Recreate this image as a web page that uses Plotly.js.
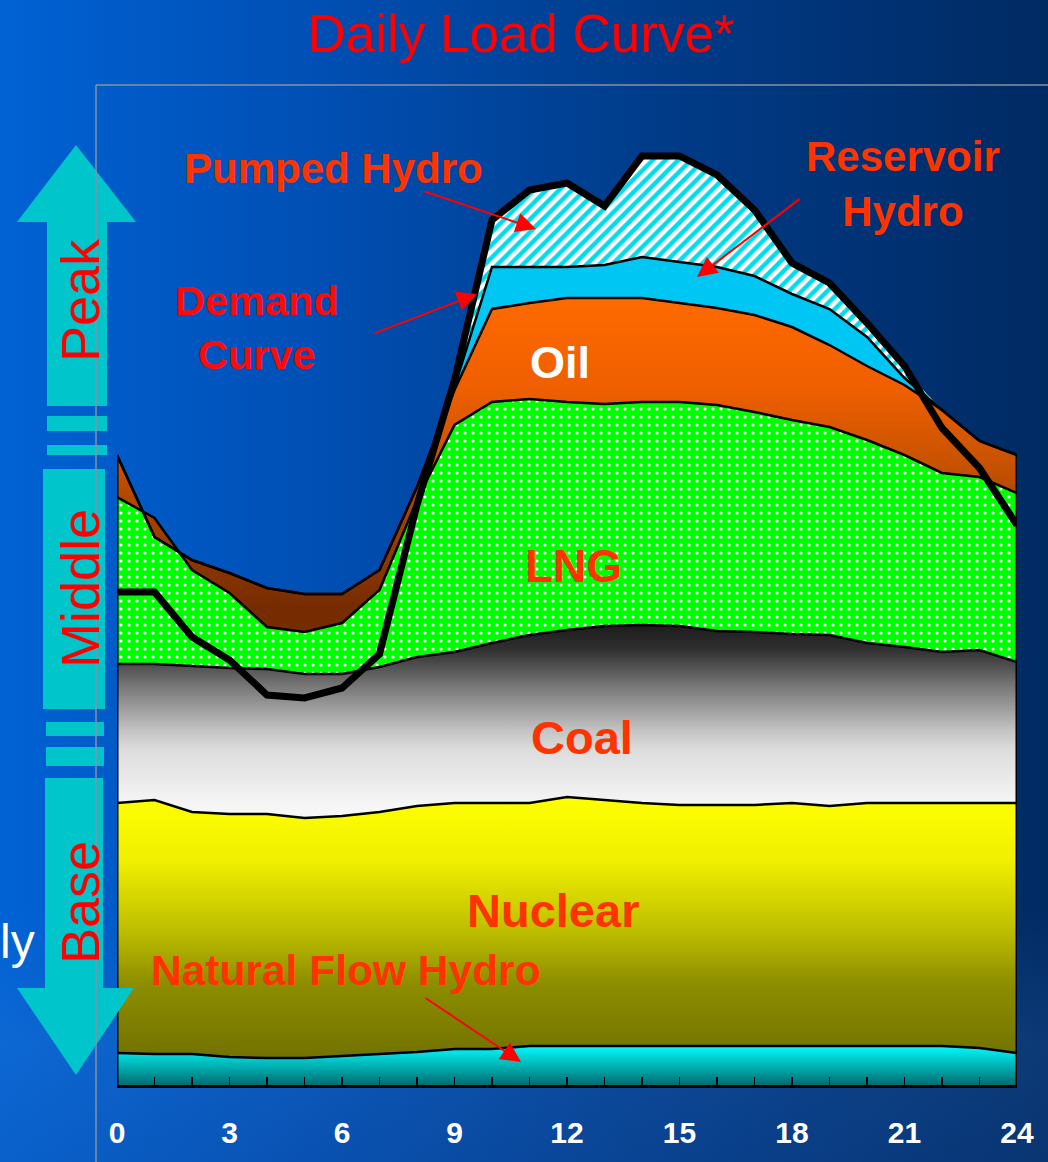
<!DOCTYPE html>
<html>
<head>
<meta charset="utf-8">
<script src="https://cdn.plot.ly/plotly-3.0.1.min.js"></script>
<style>
  html, body { margin: 0; padding: 0; }
  body {
    width: 1048px; height: 1162px; overflow: hidden;
    background:
      linear-gradient(to bottom, rgba(0,0,0,0) 78%, rgba(70,130,210,0.18) 90%, rgba(40,90,170,0.22) 100%),
      linear-gradient(to right, #0062d4 0%, #004fb4 30%, #003c8a 62%, #002a62 100%);
  }
  #chart { width: 1048px; height: 1162px; }
</style>
</head>
<body>
<div id="chart"></div>
<script>
// ---- data (arbitrary load units) ----
const hours = [0,1,2,3,4,5,6,7,8,9,10,11,12,13,14,15,16,17,18,19,20,21,22,23,24];
const hourLabels = ['0','','','3','','','6','','','9','','','12','','','15','','','18','','','21','','','24'];

const naturalFlowHydro = [3.2,3.1,3.1,2.8,2.7,2.7,2.9,3.1,3.3,3.6,3.6,3.9,3.9,3.9,3.9,3.9,3.9,3.9,3.9,3.9,3.9,3.9,3.9,3.7,3.2];
const nuclear = [25.0,25.4,24.2,24.3,24.4,24.0,24.0,24.2,24.6,24.6,24.6,24.3,24.9,24.6,24.3,24.1,24.1,24.1,24.3,24.0,24.3,24.3,24.3,24.5,25.0];
const coal = [13.9,13.6,14.6,14.6,14.5,14.4,14.2,14.5,14.9,15.1,16.0,16.8,16.7,17.4,17.8,17.9,17.4,17.3,16.9,17.1,16.0,15.6,15.1,15.3,14.1];
const lng = [16.7,14.6,9.6,7.5,4.2,4.2,5.1,7.7,15.7,22.7,24.1,23.6,22.8,22.2,22.3,22.4,22.6,22.0,21.4,20.8,20.3,19.2,17.9,17.3,16.9];
const oil = [4.2,-1.9,1.0,2.0,3.9,3.8,2.9,2.0,1.3,3.5,9.3,9.6,10.4,10.6,10.4,9.9,9.7,9.7,9.3,8.2,7.4,7.0,6.3,3.6,3.8];
const reservoirHydro = [0,0,0,0,0,0,0,0,0,0.3,4.2,3.6,3.1,3.3,4.1,4.1,4.1,3.9,3.3,3.6,2.9,0.7,0,0,0];
const pumpedHydro = [0,0,0,0,0,0,0,0,0,0.5,4.7,7.7,8.4,5.9,10.1,10.6,9.2,6.6,3.1,2.6,1.4,0.8,0,0,0];
const demand = [49.3,49.3,44.8,42.5,39.0,38.7,39.7,43.1,58.0,70.5,86.5,89.5,90.2,87.9,92.9,92.9,91.0,87.5,82.2,80.2,76.2,71.9,65.7,61.7,56.0];

// ---- helpers for decoration placement (pixel -> paper) ----
const PL = 117, PR = 1017, PT = 85, PB = 1085;
const PX = x => (x - PL) / (PR - PL);
const PY = y => (PB - y) / (PB - PT);
const path = pts => 'M ' + pts.map(p => PX(p[0]).toFixed(5) + ',' + PY(p[1]).toFixed(5)).join(' L ') + ' Z';

const edge = {color: '#000000', width: 2.5};
const base = {type: 'scatter', mode: 'lines', stackgroup: 'supply', hoverinfo: 'skip', x: hours, line: edge};

const traces = [
  Object.assign({}, base, {name: 'Natural Flow Hydro', y: naturalFlowHydro,
    fillgradient: {type: 'vertical', start: 0, stop: 4, colorscale: [[0, '#006c70'], [1, '#00ffff']]}}),
  Object.assign({}, base, {name: 'Nuclear', y: nuclear,
    fillgradient: {type: 'vertical', start: 3, stop: 29, colorscale: [[0, '#737300'], [0.28, '#8e8e00'], [0.47, '#bcbc00'], [0.75, '#f0f000'], [1, '#ffff00']]}}),
  Object.assign({}, base, {name: 'Coal', y: coal,
    fillgradient: {type: 'vertical', start: 28, stop: 46.5, colorscale: [[0, '#f6f6f6'], [0.3, '#dcdcdc'], [0.4, '#c4c4c4'], [0.64, '#787878'], [0.84, '#303030'], [1, '#181818']]}}),
  Object.assign({}, base, {name: 'LNG', y: lng, fillcolor: '#00ff00',
    fillpattern: {shape: '.', bgcolor: '#00ff00', fgcolor: '#ffffff', size: 8, solidity: 0.12, fillmode: 'replace'}}),
  Object.assign({}, base, {name: 'Oil', y: oil,
    fillgradient: {type: 'vertical', start: 48, stop: 79, colorscale: [[0, '#772c00'], [0.22, '#9a3c00'], [0.45, '#c65200'], [0.7, '#ef5f00'], [1, '#ff6a00']]}}),
  Object.assign({}, base, {name: 'Reservoir Hydro', y: reservoirHydro, fillcolor: '#00c6f4'}),
  Object.assign({}, base, {name: 'Pumped Hydro', y: pumpedHydro, line: {color: '#000000', width: 0},
    fillcolor: '#ffffff',
    fillpattern: {shape: '/', bgcolor: '#ffffff', fgcolor: '#00dcec', size: 9, solidity: 0.5, fillmode: 'replace'}})
];

// outline edges at both ends of the stacked area, derived from the data
const stackTop = i => naturalFlowHydro[i] + nuclear[i] + coal[i] + lng[i] + oil[i] + reservoirHydro[i] + pumpedHydro[i];
const last = hours.length - 1;
traces.push({type: 'scatter', mode: 'lines', hoverinfo: 'skip', x: [hours[0], hours[0]], y: [0, stackTop(0)], line: {color: '#000', width: 3}});
traces.push({type: 'scatter', mode: 'lines', hoverinfo: 'skip', x: [hours[last], hours[last]], y: [0, stackTop(last)], line: {color: '#000', width: 3}});

traces.push({type: 'scatter', mode: 'lines', name: 'Demand Curve', hoverinfo: 'skip', x: hours, y: demand,
  line: {color: '#000000', width: 7}});

// ---- decorations ----
const cyan = '#00c6cc';
const box = pts => ({type: 'path', xref: 'paper', yref: 'paper', layer: 'above', fillcolor: cyan, line: {width: 0}, path: path(pts)});
const shapes = [
  box([[76,145],[136,222],[107,222],[107,406],[47,406],[47,222],[17,222]]),
  box([[47,416],[107,416],[107,431],[47,431]]),
  box([[47,445],[107,445],[107,455],[47,455]]),
  box([[43,469],[105,469],[105,709],[43,709]]),
  box([[46,722],[104,722],[104,736],[46,736]]),
  box([[46,747],[104,747],[104,766],[46,766]]),
  box([[45,778],[103,778],[103,988],[134,988],[76,1075],[17,988],[45,988]]),
  // thin frame of the original chart box
  {type: 'line', xref: 'paper', yref: 'paper', layer: 'above', x0: PX(96), x1: PX(1048), y0: PY(85), y1: PY(85), line: {color: '#8592a6', width: 1.5}},
  {type: 'line', xref: 'paper', yref: 'paper', layer: 'above', x0: PX(96), x1: PX(96), y0: PY(85), y1: PY(1162), line: {color: '#8592a6', width: 1.5}}
];

const fam = 'Liberation Sans, Arial, sans-serif';
const lab = (txt, x, y, size, color) => ({
  text: txt, xref: 'paper', yref: 'paper', x: PX(x), y: PY(y), xanchor: 'center', yanchor: 'middle',
  showarrow: false, font: {family: fam, size: size, color: color, weight: 'bold'}
});
const arrow = (tx, ty, hx, hy) => ({
  text: '', xref: 'paper', yref: 'paper', x: PX(hx), y: PY(hy), ax: tx - hx, ay: ty - hy,
  showarrow: true, arrowhead: 2, arrowsize: 2, arrowwidth: 2, arrowcolor: '#ff0000', standoff: 0, startstandoff: 0
});
const side = (txt, y) => ({text: txt, xref: 'paper', yref: 'paper', x: PX(80), y: PY(y), textangle: -90, showarrow: false,
  xanchor: 'center', yanchor: 'middle', font: {family: fam, size: 54, color: '#ff0000'}});

const orange = '#ff3300';
const annotations = [
  lab('Pumped Hydro', 333, 169, 42, orange),
  lab('Reservoir<br>Hydro', 903, 184, 42, orange),
  lab('Demand<br>Curve', 257, 327, 41.5, '#ff0a0a'),
  lab('Oil', 560, 362, 45, '#ffffff'),
  lab('LNG', 573, 566, 46, orange),
  lab('Coal', 582, 737, 47, orange),
  lab('Nuclear', 553, 910, 47, orange),
  lab('Natural Flow Hydro', 346, 970, 42.5, orange),
  arrow(423, 191, 536, 229),
  arrow(801, 198, 697, 277),
  arrow(373, 334, 477, 294),
  arrow(424, 997, 521, 1062),
  side('Peak', 300),
  side('Middle', 589),
  side('Base', 903),
  {text: 'ly', xref: 'paper', yref: 'paper', x: PX(37), y: PY(941), xanchor: 'right', yanchor: 'middle', showarrow: false,
   font: {family: fam, size: 48, color: '#ffffff'}}
];

const layout = {
  width: 1048, height: 1162,
  margin: {l: 117, r: 31, t: 85, b: 77, pad: 0},
  paper_bgcolor: 'rgba(0,0,0,0)', plot_bgcolor: 'rgba(0,0,0,0)',
  showlegend: false,
  title: {text: 'Daily Load Curve*', x: 521 / 1048, xanchor: 'center', xref: 'container',
          y: 1 - 33.5 / 1162, yref: 'container', yanchor: 'middle',
          font: {family: fam, size: 53, color: '#ff0000'}},
  xaxis: {range: [0, 24], tickmode: 'array', tickvals: hours, ticktext: hourLabels,
          ticks: 'inside', ticklen: 8, tickwidth: 1.5, tickcolor: '#000000',
          showline: true, linecolor: '#000000', linewidth: 3, showgrid: false, zeroline: false,
          ticklabelstandoff: 19,
          tickfont: {family: 'Liberation Sans Narrow, Arial Narrow, Liberation Sans, sans-serif', size: 30, color: '#ffffff', weight: 'bold'}},
  yaxis: {range: [0, 100], visible: false, showgrid: false, zeroline: false, fixedrange: true},
  shapes: shapes,
  annotations: annotations
};

Plotly.newPlot('chart', traces, layout, {staticPlot: true, displayModeBar: false});
</script>
</body>
</html>
